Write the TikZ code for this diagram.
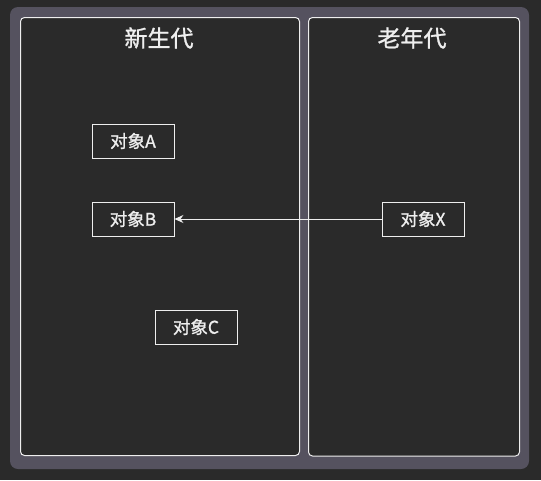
\documentclass[tikz,border=0pt]{standalone}
\usepackage{fontspec}
\setmainfont{Noto Sans CJK SC}
\newfontfamily\medfont[FakeBold=1.2]{Noto Sans CJK SC}
\usetikzlibrary{arrows.meta}
\definecolor{bg}{HTML}{2A2A2A}
\definecolor{outer}{HTML}{55525F}
\definecolor{fg}{HTML}{EEEEEE}
\begin{document}
\begin{tikzpicture}[x=1pt,y=-1pt,
  panel/.style={draw=fg,line width=1pt,fill=bg,rounded corners=4pt},
  obj/.style={draw=fg,line width=0.9pt,fill=bg,minimum width=82pt,minimum height=34pt,inner sep=0pt,text=fg,font=\medfont\fontsize{17.5}{19}\selectfont},
  title/.style={text=fg,font=\medfont\fontsize{23}{25}\selectfont},
  conn/.style={draw=fg,line width=0.9pt,-{Stealth[length=9pt,width=8pt]}}]
\fill[bg] (0,0) rectangle (541,480);
\useasboundingbox (0,0) rectangle (541,480);
\fill[outer,rounded corners=8pt] (10,7) rectangle (529,469);
\draw[panel] (20.5,17.5) rectangle (299.5,455.5);
\draw[panel] (308.5,17.5) rectangle (519.5,456);
\node[title] (tyoung) at (159,38) {新生代};
\node[title] (told) at (412,38) {老年代};
\node[obj] (a) at (133,141) {对象A};
\node[obj] (b) at (133,219) {对象B};
\node[obj] (c) at (196,327) {对象C};
\node[obj] (x) at (423,219) {对象X};
\draw[conn] (x) -- (b);
\end{tikzpicture}
\end{document}
